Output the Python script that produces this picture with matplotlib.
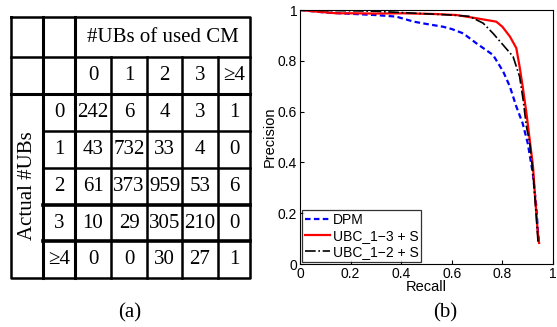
import matplotlib.pyplot as plt
import numpy as np

# confusion table values (rows: actual #UBs, cols: #UBs of used CM)
col_labels = ['0', '1', '2', '3', '\u22654']
row_labels = ['0', '1', '2', '3', '\u22654']
counts = [
    [242, 6, 4, 3, 1],
    [43, 732, 33, 4, 0],
    [61, 373, 959, 53, 6],
    [10, 29, 305, 210, 0],
    [0, 0, 30, 27, 1],
]

# precision / recall curves
dpm_recall = [0, 0.05, 0.1, 0.2, 0.3, 0.38, 0.45, 0.5, 0.566, 0.6, 0.645, 0.697, 0.763, 0.803,
              0.829, 0.855, 0.88, 0.9, 0.92, 0.934, 0.941, 0.945]
dpm_prec = [1.0, 0.995, 0.99, 0.985, 0.98, 0.974, 0.954, 0.945, 0.934, 0.925, 0.908, 0.869,
            0.823, 0.758, 0.70, 0.62, 0.554, 0.476, 0.358, 0.227, 0.12, 0.083]
ubc13_recall = [0, 0.05, 0.145, 0.22, 0.3, 0.41, 0.54, 0.62, 0.70, 0.776, 0.8, 0.83, 0.855,
                0.868, 0.88, 0.895, 0.908, 0.921, 0.93, 0.94, 0.945]
ubc13_prec = [1.0, 0.995, 0.987, 0.987, 0.986, 0.987, 0.984, 0.98, 0.967, 0.954, 0.934, 0.895,
              0.85, 0.777, 0.70, 0.594, 0.489, 0.384, 0.253, 0.122, 0.083]
ubc12_recall = [0, 0.1, 0.2, 0.3, 0.4, 0.5, 0.6, 0.67, 0.724, 0.763, 0.803, 0.842, 0.868,
                0.882, 0.895, 0.908, 0.921, 0.934, 0.941]
ubc12_prec = [1.0, 0.998, 0.997, 0.995, 0.99, 0.985, 0.98, 0.975, 0.948, 0.908, 0.862, 0.817,
              0.738, 0.646, 0.541, 0.476, 0.358, 0.187, 0.083]

W, H = 557, 327
fig = plt.figure(figsize=(W / 100, H / 100), dpi=100)

# ---- (a) table drawn in pixel coordinates ----
tab = fig.add_axes([0, 0, 1, 1])
tab.set_xlim(0, W)
tab.set_ylim(H, 0)
tab.axis('off')

xs = [11, 43, 75, 111, 147, 182, 218, 250]
ys = [17, 57, 94, 131, 168, 205, 241, 278]
lw = 1.8
serif = 'Liberation Serif'
fs = 15

# outer border
tab.plot([xs[0], xs[-1], xs[-1], xs[0], xs[0]], [ys[0], ys[0], ys[-1], ys[-1], ys[0]], 'k-', lw=lw)
# vertical lines
tab.plot([xs[1], xs[1]], [ys[0], ys[-1]], 'k-', lw=lw + 0.4)
tab.plot([xs[2], xs[2]], [ys[0], ys[-1]], 'k-', lw=lw + 0.4)
for x in xs[3:-1]:
    tab.plot([x, x], [ys[1], ys[-1]], 'k-', lw=lw)
# horizontal lines
tab.plot([xs[0], xs[-1]], [ys[1], ys[1]], 'k-', lw=lw)
tab.plot([xs[0], xs[-1]], [ys[2], ys[2]], 'k-', lw=lw + 0.4)
for i, y in enumerate(ys[3:-1]):
    tab.plot([xs[1], xs[-1]], [y, y], 'k-', lw=lw + (0.8 if i >= 2 else 0))

tab.text((xs[2] + xs[-1]) / 2, (ys[0] + ys[1]) / 2, '#UBs of used CM', family=serif,
         fontsize=fs, ha='center', va='center')
for j, lab in enumerate(col_labels):
    tab.text((xs[j + 2] + xs[j + 3]) / 2, (ys[1] + ys[2]) / 2, lab, family=serif,
             fontsize=fs, ha='center', va='center')
for i, lab in enumerate(row_labels):
    yc = (ys[i + 2] + ys[i + 3]) / 2
    tab.text((xs[1] + xs[2]) / 2, yc, lab, family=serif, fontsize=fs, ha='center', va='center')
    for j, v in enumerate(counts[i]):
        tab.text((xs[j + 2] + xs[j + 3]) / 2, yc, str(v), family=serif, fontsize=fs,
                 ha='center', va='center')
tab.text((xs[0] + xs[1]) / 2 + 1, (ys[2] + ys[-1]) / 2, 'Actual #UBs', family=serif,
         fontsize=fs, rotation=90, ha='center', va='center')

tab.text(130, 313, '(a)', family=serif, fontsize=15, ha='center', va='center')
tab.text(445, 313, '(b)', family=serif, fontsize=15, ha='center', va='center')

# ---- (b) precision-recall ----
ax = fig.add_axes([300 / W, 1 - 264 / H, 253 / W, 254 / H])
sans = 'Liberation Sans'
ax.plot(dpm_recall, dpm_prec, '--', color='#0000ff', lw=1.6, label='DPM', dashes=(2.5, 1.5))
ax.plot(ubc13_recall, ubc13_prec, '-', color='#ff0000', lw=1.6, label='UBC_1\u22123 + S')
ax.plot(ubc12_recall, ubc12_prec, '-.', color='k', lw=1.2, label='UBC_1\u22122 + S')
ax.set_xlim(0, 1)
ax.set_ylim(0, 1)
ax.set_xticks([0, 0.2, 0.4, 0.6, 0.8, 1])
ax.set_xticklabels(['0', '0.2', '0.4', '0.6', '0.8', '1'])
ax.set_yticks([0, 0.2, 0.4, 0.6, 0.8, 1])
ax.set_yticklabels(['0', '0.2', '0.4', '0.6', '0.8', '1'])
ax.tick_params(direction='in', length=3, labelsize=10)
ax.tick_params(axis='x', pad=2.5)
ax.tick_params(axis='y', pad=2)
for lab in ax.get_xticklabels() + ax.get_yticklabels():
    lab.set_family(sans)
ax.set_xlabel('Recall', family=sans, fontsize=10.5, labelpad=-1)
ax.set_ylabel('Precision', family=sans, fontsize=10.5, labelpad=1)
leg = ax.legend(loc='lower left', prop={'family': sans, 'size': 10}, frameon=True,
                fancybox=False, borderaxespad=0.15, handlelength=1.8, handletextpad=0.2,
                labelspacing=0.15, borderpad=0.2)
leg.get_frame().set_edgecolor('k')
leg.get_frame().set_linewidth(0.9)

fig.savefig('out.png', dpi=100)
